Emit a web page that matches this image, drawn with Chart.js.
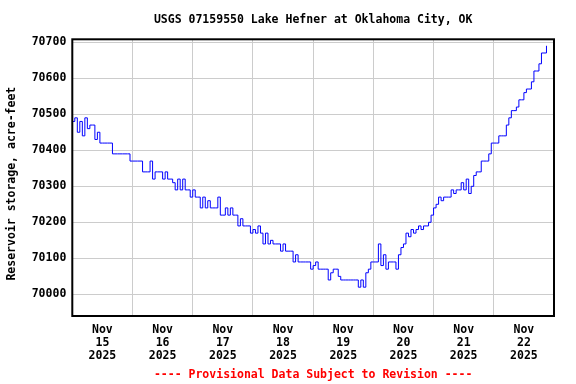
<!DOCTYPE html>
<html>
<head>
<meta charset="utf-8">
<script src="https://cdn.jsdelivr.net/npm/chart.js@4.4.0/dist/chart.umd.min.js"></script>
<style>
  html, body { margin: 0; padding: 0; background: #fff; }
  #wrap { width: 576px; height: 384px; }
</style>
</head>
<body>
<div id="wrap"><canvas id="chart" width="576" height="384"></canvas></div>
<script>
/* ===== DATA ===== */
const chartTitle = 'USGS 07159550 Lake Hefner at Oklahoma City, OK';
const yAxisTitle = 'Reservoir storage, acre-feet';
const footNote = '---- Provisional Data Subject to Revision ----';

// one label per day, drawn at noon
const dayLabels = [
  ['Nov', '15', '2025'], ['Nov', '16', '2025'], ['Nov', '17', '2025'], ['Nov', '18', '2025'],
  ['Nov', '19', '2025'], ['Nov', '20', '2025'], ['Nov', '21', '2025'], ['Nov', '22', '2025']
];
const yTickValues = [70000, 70100, 70200, 70300, 70400, 70500, 70600, 70700];

// hourly storage (acre-feet), first value at 00:00 of each day
const nov15 = [70480, 70490, 70450, 70480, 70440, 70490, 70460, 70470, 70470, 70430, 70450, 70420,
               70420, 70420, 70420, 70420, 70390, 70390, 70390, 70390, 70390, 70390, 70390, 70370];
const nov16 = [70370, 70370, 70370, 70370, 70340, 70340, 70340, 70370, 70320, 70340, 70340, 70340,
               70320, 70340, 70320, 70320, 70310, 70290, 70320, 70290, 70320, 70290, 70290, 70270];
const nov17 = [70290, 70270, 70270, 70240, 70270, 70240, 70260, 70240, 70240, 70240, 70270, 70220,
               70220, 70240, 70220, 70240, 70220, 70220, 70190, 70210, 70190, 70190, 70190, 70170];
const nov18 = [70180, 70170, 70190, 70170, 70140, 70170, 70140, 70150, 70140, 70140, 70140, 70120,
               70140, 70120, 70120, 70120, 70090, 70110, 70090, 70090, 70090, 70090, 70090, 70070];
const nov19 = [70080, 70090, 70070, 70070, 70070, 70070, 70040, 70060, 70070, 70070, 70050, 70040,
               70040, 70040, 70040, 70040, 70040, 70040, 70020, 70040, 70020, 70060, 70070, 70090];
const nov20 = [70090, 70090, 70140, 70080, 70110, 70070, 70090, 70090, 70090, 70070, 70110, 70130,
               70140, 70170, 70160, 70180, 70170, 70180, 70190, 70180, 70190, 70190, 70200, 70220];
const nov21 = [70240, 70250, 70270, 70260, 70270, 70270, 70270, 70290, 70280, 70290, 70290, 70310,
               70290, 70320, 70280, 70300, 70330, 70340, 70340, 70370, 70370, 70370, 70390, 70420];
const nov22 = [70420, 70420, 70440, 70440, 70440, 70470, 70490, 70510, 70510, 70520, 70540, 70540,
               70560, 70570, 70570, 70590, 70620, 70620, 70640, 70670, 70670, 70690];

const days = [nov15, nov16, nov17, nov18, nov19, nov20, nov21, nov22];

/* ===== BUILD ===== */
const monoFont = "'DejaVu Sans Mono', 'Liberation Mono', monospace";
const points = [];
days.forEach((vals, d) => {
  vals.forEach((v, h) => points.push({ x: d * 24 + h, y: v }));
});

// Black box round the plot area
const framePlugin = {
  id: 'frame',
  afterDatasetsDraw(chart) {
    const { ctx, chartArea: a } = chart;
    ctx.save();
    ctx.strokeStyle = '#000';
    ctx.lineWidth = 2;
    ctx.strokeRect(a.left, a.top, a.right - a.left, a.bottom - a.top);
    ctx.restore();
  }
};

// Rotated y axis title, sat a little below the plot's middle like the original
const yTitlePlugin = {
  id: 'yTitle',
  afterDraw(chart) {
    const { ctx, chartArea: a } = chart;
    ctx.save();
    ctx.translate(12, (a.top + a.bottom) / 2 + 6);
    ctx.rotate(-Math.PI / 2);
    ctx.font = 'bold 11.5px ' + monoFont;
    ctx.fillStyle = '#000';
    ctx.textAlign = 'center';
    ctx.textBaseline = 'middle';
    ctx.fillText(yAxisTitle, 0, 0);
    ctx.restore();
  }
};

new Chart(document.getElementById('chart'), {
  type: 'line',
  data: {
    datasets: [{
      data: points,
      borderColor: '#0000ff',
      borderWidth: 1,
      pointRadius: 0,
      stepped: true,
      fill: false
    }]
  },
  options: {
    responsive: false,
    animation: false,
    layout: { padding: { left: 0, right: 22, top: 0, bottom: 0 } },
    plugins: {
      legend: { display: false },
      tooltip: { enabled: false },
      title: {
        display: true,
        text: chartTitle,
        color: '#000',
        fullSize: false,
        font: { family: monoFont, size: 11.5, weight: 'bold', lineHeight: 1.2 },
        padding: { top: 13, bottom: 12.5 }
      },
      subtitle: {
        display: true,
        text: footNote,
        position: 'bottom',
        color: '#ff0000',
        fullSize: false,
        font: { family: monoFont, size: 11.5, weight: 'bold', lineHeight: 1.2 },
        padding: { top: 5, bottom: 2.2 }
      }
    },
    scales: {
      x: {
        type: 'linear',
        min: 0,
        max: 192,
        afterBuildTicks: scale => {
          const t = [];
          for (let v = 0; v <= 192; v += 12) t.push({ value: v });
          scale.ticks = t;
        },
        afterFit: scale => { scale.height = 47; },
        border: { display: false },
        grid: {
          drawTicks: false,
          color: ctx => (ctx.tick && ctx.tick.value % 24 === 0) ? '#cccccc' : 'rgba(0,0,0,0)',
          lineWidth: 1
        },
        ticks: {
          autoSkip: false,
          maxRotation: 0,
          padding: 8,
          color: '#000',
          font: { family: monoFont, size: 11.5, weight: 'bold', lineHeight: 1.13 },
          callback: v => (v % 24 === 12 ? dayLabels[(v - 12) / 24] : '')
        }
      },
      y: {
        min: 69940,
        max: 70708,
        afterBuildTicks: scale => { scale.ticks = yTickValues.map(v => ({ value: v })); },
        afterFit: scale => { scale.width = 72.3; },
        border: { display: false },
        grid: { drawTicks: false, color: '#cccccc', lineWidth: 1 },
        ticks: {
          padding: 6,
          color: '#000',
          font: { family: monoFont, size: 11.5, weight: 'bold' },
          callback: v => String(v)
        }
      }
    }
  },
  plugins: [framePlugin, yTitlePlugin]
});
</script>
</body>
</html>
